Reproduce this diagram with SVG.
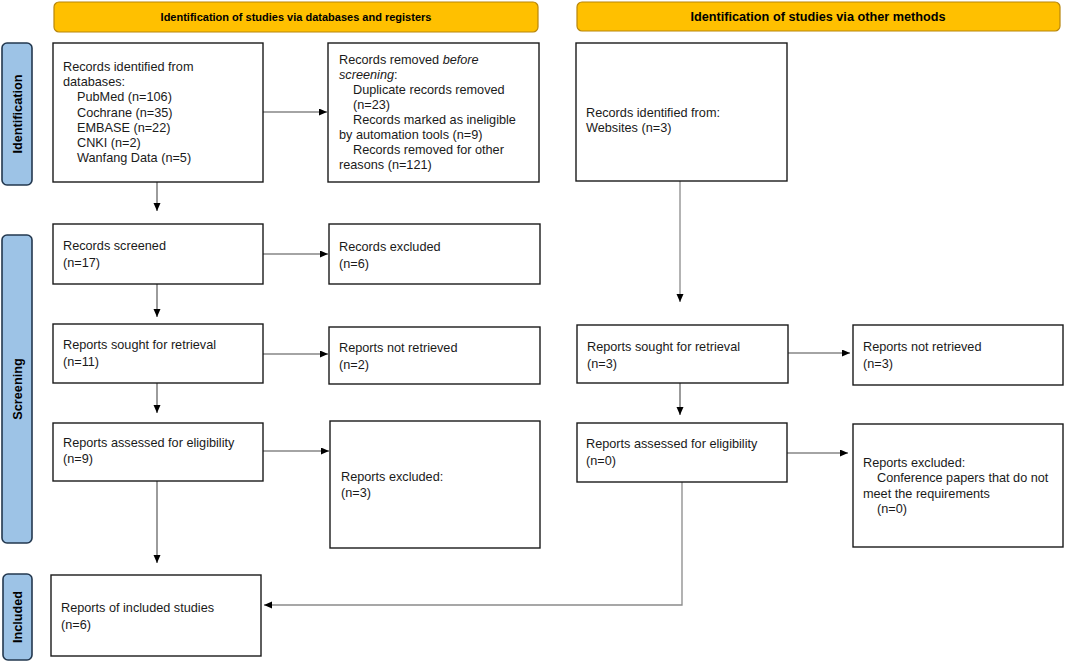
<svg xmlns="http://www.w3.org/2000/svg" width="1065" height="662" viewBox="0 0 1065 662">
<style>
.box{fill:#fff;stroke:#1a1a1a;stroke-width:1.4}
.hdr{fill:#FFC000;stroke:#B8860B;stroke-width:1.2}
.lbl{fill:#9DC3E6;stroke:#23384F;stroke-width:1.6}
.t{font-family:"Liberation Sans",Arial,sans-serif;font-size:12.7px;fill:#1a1a1a}
.ht{font-family:"Liberation Sans",Arial,sans-serif;font-weight:bold;fill:#000;text-anchor:middle}
.lt{font-family:"Liberation Sans",Arial,sans-serif;font-weight:bold;font-size:12.7px;fill:#000;text-anchor:middle}
.c{fill:none;stroke:#4a4a4a;stroke-width:1.1}
.cg{fill:none;stroke:#8a8a8a;stroke-width:1.3}
</style>
<defs>
<marker id="ah" markerUnits="userSpaceOnUse" markerWidth="9" markerHeight="8" refX="8" refY="3.5" orient="auto">
<path d="M0,0 L8,3.5 L0,7 z" fill="#000"/>
</marker>
</defs>

<g id="header-databases"><rect class="hdr" x="54" y="2" width="484" height="30" rx="5"/><text class="ht" x="296" y="20.5" font-size="11">Identification of studies via databases and registers</text></g>
<g id="header-other"><rect class="hdr" x="577" y="2" width="483" height="29" rx="5"/><text class="ht" x="818" y="20.5" font-size="12.7">Identification of studies via other methods</text></g>

<g id="label-identification"><rect class="lbl" x="2" y="43" width="30" height="142" rx="5"/><text class="lt" transform="translate(21.5,114) rotate(-90)">Identification</text></g>
<g id="label-screening"><rect class="lbl" x="2" y="235" width="30" height="308" rx="5"/><text class="lt" transform="translate(21.5,389) rotate(-90)">Screening</text></g>
<g id="label-included"><rect class="lbl" x="3" y="574" width="29" height="86" rx="5"/><text class="lt" transform="translate(22,617) rotate(-90)">Included</text></g>

<g id="connectors">
<line class="c" x1="263" y1="112" x2="327" y2="112" marker-end="url(#ah)"/>
<line class="c" x1="157" y1="182" x2="157" y2="211" marker-end="url(#ah)"/>
<line class="c" x1="263" y1="254" x2="328" y2="254" marker-end="url(#ah)"/>
<line class="c" x1="157" y1="284" x2="157" y2="317" marker-end="url(#ah)"/>
<line class="c" x1="263" y1="354" x2="328" y2="354" marker-end="url(#ah)"/>
<line class="c" x1="157" y1="383" x2="157" y2="413" marker-end="url(#ah)"/>
<line class="c" x1="263" y1="451" x2="329" y2="451" marker-end="url(#ah)"/>
<line class="c" x1="157" y1="481" x2="157" y2="563" marker-end="url(#ah)"/>
<line class="cg" x1="680" y1="181" x2="680" y2="302" marker-end="url(#ah)"/>
<line class="c" x1="788" y1="353" x2="850" y2="353" marker-end="url(#ah)"/>
<line class="c" x1="680" y1="383" x2="680" y2="415" marker-end="url(#ah)"/>
<line class="c" x1="787" y1="453" x2="848" y2="453" marker-end="url(#ah)"/>
<polyline class="cg" points="682,480 682,605 264,605" marker-end="url(#ah)"/>
</g>

<g id="records-identified">
<rect class="box" x="53" y="43" width="210" height="139"/>
<text class="t" x="63" y="71">Records identified from</text>
<text class="t" x="63" y="86.2">databases:</text>
<text class="t" x="77" y="101.3">PubMed (n=106)</text>
<text class="t" x="77" y="116.5">Cochrane (n=35)</text>
<text class="t" x="77" y="131.6">EMBASE (n=22)</text>
<text class="t" x="77" y="146.8">CNKI (n=2)</text>
<text class="t" x="77" y="161.9">Wanfang Data (n=5)</text>
</g>

<g id="records-removed">
<rect class="box" x="328" y="43" width="211" height="139"/>
<text class="t" x="339" y="63.5">Records removed <tspan font-style="italic">before</tspan></text>
<text class="t" x="339" y="78.6"><tspan font-style="italic">screening</tspan>:</text>
<text class="t" x="353" y="93.7">Duplicate records removed</text>
<text class="t" x="353" y="108.8">(n=23)</text>
<text class="t" x="353" y="123.9">Records marked as ineligible</text>
<text class="t" x="339" y="139">by automation tools (n=9)</text>
<text class="t" x="353" y="154.1">Records removed for other</text>
<text class="t" x="339" y="169.2">reasons (n=121)</text>
</g>

<g id="records-websites">
<rect class="box" x="576" y="43" width="211" height="138"/>
<text class="t" x="586" y="116.5">Records identified from:</text>
<text class="t" x="586" y="132">Websites (n=3)</text>
</g>

<g id="records-screened">
<rect class="box" x="53" y="224" width="210" height="60"/>
<text class="t" x="63" y="249.5">Records screened</text>
<text class="t" x="63" y="267">(n=17)</text>
</g>

<g id="records-excluded">
<rect class="box" x="329" y="224" width="211" height="60"/>
<text class="t" x="339" y="250.5">Records excluded</text>
<text class="t" x="339" y="268">(n=6)</text>
</g>

<g id="reports-sought-db">
<rect class="box" x="53" y="324" width="210" height="59"/>
<text class="t" x="63" y="348.5">Reports sought for retrieval</text>
<text class="t" x="63" y="366">(n=11)</text>
</g>

<g id="reports-not-retrieved-db">
<rect class="box" x="329" y="327" width="211" height="57"/>
<text class="t" x="339" y="351.5">Reports not retrieved</text>
<text class="t" x="339" y="369">(n=2)</text>
</g>

<g id="reports-assessed-db">
<rect class="box" x="53" y="423" width="210" height="58"/>
<text class="t" x="63" y="446.5">Reports assessed for eligibility</text>
<text class="t" x="63" y="463">(n=9)</text>
</g>

<g id="reports-excluded-db">
<rect class="box" x="330" y="421" width="210" height="127"/>
<text class="t" x="341" y="480.5">Reports excluded:</text>
<text class="t" x="341" y="497">(n=3)</text>
</g>

<g id="reports-included">
<rect class="box" x="51" y="575" width="210" height="81"/>
<text class="t" x="61" y="611.5">Reports of included studies</text>
<text class="t" x="61" y="628.5">(n=6)</text>
</g>

<g id="reports-sought-other">
<rect class="box" x="577" y="325" width="211" height="58"/>
<text class="t" x="587" y="350.5">Reports sought for retrieval</text>
<text class="t" x="587" y="367.5">(n=3)</text>
</g>

<g id="reports-not-retrieved-other">
<rect class="box" x="853" y="325" width="210" height="60"/>
<text class="t" x="863" y="350.5">Reports not retrieved</text>
<text class="t" x="863" y="367.5">(n=3)</text>
</g>

<g id="reports-assessed-other">
<rect class="box" x="577" y="423" width="210" height="59"/>
<text class="t" x="586" y="447.5">Reports assessed for eligibility</text>
<text class="t" x="586" y="465">(n=0)</text>
</g>

<g id="reports-excluded-other">
<rect class="box" x="853" y="424" width="210" height="123"/>
<text class="t" x="863" y="466.5">Reports excluded:</text>
<text class="t" x="877" y="482">Conference papers that do not</text>
<text class="t" x="863" y="497.5">meet the requirements</text>
<text class="t" x="877" y="513">(n=0)</text>
</g>
</svg>
